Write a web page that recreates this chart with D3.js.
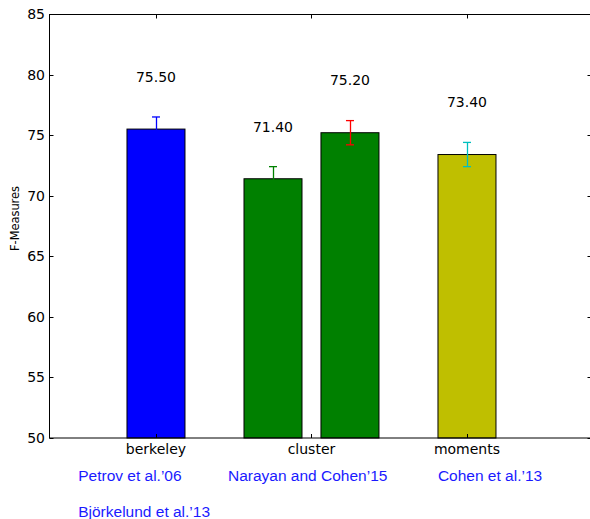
<!DOCTYPE html>
<html>
<head>
<meta charset="utf-8">
<script src="https://cdn.jsdelivr.net/npm/d3@7"></script>
<style>
  html, body { margin: 0; padding: 0; background: #fff; }
  svg { display: block; }
</style>
</head>
<body>
<script>
// ---- data ----
const categories = ["berkeley", "cluster", "moments"];
const barGroup = [0, 1, 1, 2];
const barValues = [75.5, 71.4, 75.2, 73.4];
const barErrors = [1.0, 1.0, 1.0, 1.0];
const barColors = ["#0000ff", "#008000", "#008000", "#bfbf00"];
const errColors = ["#0000ff", "#008000", "#ff0000", "#00bfbf"];
const yTicks = [50, 55, 60, 65, 70, 75, 80, 85];
const refLabels = ["Petrov et al.\u201906", "Narayan and Cohen\u201915", "Cohen et al.\u201913", "Bj\u00f6rkelund et al.\u201913"];
const refX = [-0.5, 0.463, 1.813, -0.5];
const refY = [46.45, 46.45, 46.45, 43.45];

const W = 590, H = 519;
const svg = d3.select("body").append("svg").attr("width", W).attr("height", H);

const x = d3.scaleLinear().domain([-0.688, 2.804]).range([49, 592]);
const y = d3.scaleLinear().domain([50, 85]).range([438, 14]);

const barW = 0.373;
// offset of a bar within its category group
const groupCounts = d3.rollup(barGroup, v => v.length, d => d);
const seen = {};
const bars = barValues.map((v, i) => {
  const g = barGroup[i];
  const n = groupCounts.get(g);
  seen[g] = (seen[g] || 0);
  const k = seen[g]++;
  const off = n === 1 ? 0 : (k - (n - 1) / 2) * 0.495;
  return { v, e: barErrors[i], c: barColors[i], ec: errColors[i], cx: g + off };
});

const font = "DejaVu Sans, sans-serif";

// bars
svg.append("g").selectAll("rect").data(bars).join("rect")
  .attr("x", d => x(d.cx - barW / 2))
  .attr("y", d => y(d.v))
  .attr("width", d => x(d.cx + barW / 2) - x(d.cx - barW / 2))
  .attr("height", d => y(50) - y(d.v))
  .attr("fill", d => d.c)
  .attr("stroke", "#000")
  .attr("stroke-width", 1);

// error bars
const eb = svg.append("g").selectAll("g").data(bars).join("g")
  .attr("stroke", d => d.ec).attr("stroke-width", 1.3);
eb.append("line")
  .attr("x1", d => Math.round(x(d.cx)) + 0.5).attr("x2", d => Math.round(x(d.cx)) + 0.5)
  .attr("y1", d => y(d.v - d.e)).attr("y2", d => y(d.v + d.e));
eb.append("line")
  .attr("x1", d => x(d.cx) - 4).attr("x2", d => x(d.cx) + 4)
  .attr("y1", d => y(d.v + d.e)).attr("y2", d => y(d.v + d.e));
eb.append("line")
  .attr("x1", d => x(d.cx) - 4).attr("x2", d => x(d.cx) + 4)
  .attr("y1", d => y(d.v - d.e)).attr("y2", d => y(d.v - d.e));

// value labels
svg.append("g").selectAll("text").data(bars).join("text")
  .attr("x", d => x(d.cx))
  .attr("y", d => y(d.v + 3.9))
  .attr("text-anchor", "middle")
  .attr("font-family", font).attr("font-size", 14)
  .attr("fill", "#000")
  .text(d => d3.format(".2f")(d.v));

// spines
const sp = svg.append("g").attr("stroke", "#000").attr("stroke-width", 1).attr("fill", "none");
sp.append("rect").attr("x", 49.5).attr("y", 14.5).attr("width", 542).attr("height", 423.5);

// y ticks (inward, both sides)
const yt = svg.append("g");
yTicks.forEach(t => {
  const py = Math.round(y(t)) + 0.5;
  yt.append("line").attr("x1", 49.5).attr("x2", 53.5).attr("y1", py).attr("y2", py).attr("stroke", "#000");
  yt.append("line").attr("x1", 591.5).attr("x2", 587.5).attr("y1", py).attr("y2", py).attr("stroke", "#000");
  yt.append("text").attr("x", 45).attr("y", y(t)).attr("dy", "0.36em")
    .attr("text-anchor", "end").attr("font-family", font).attr("font-size", 14)
    .attr("fill", "#000").text(d3.format("d")(t));
});

// x ticks (inward, top and bottom)
const xt = svg.append("g");
categories.forEach((c, i) => {
  const px = Math.round(x(i)) + 0.5;
  xt.append("line").attr("x1", px).attr("x2", px).attr("y1", 438).attr("y2", 434).attr("stroke", "#000");
  xt.append("line").attr("x1", px).attr("x2", px).attr("y1", 14.5).attr("y2", 18.5).attr("stroke", "#000");
  xt.append("text").attr("x", x(i)).attr("y", 454)
    .attr("text-anchor", "middle").attr("font-family", font).attr("font-size", 14)
    .attr("fill", "#000").text(c);
});

// y-axis label
svg.append("text")
  .attr("transform", "translate(19,218.5) rotate(-90)")
  .attr("text-anchor", "middle")
  .attr("font-family", font).attr("font-size", 13)
  .attr("textLength", 65).attr("lengthAdjust", "spacingAndGlyphs")
  .attr("fill", "#000")
  .text("F-Measures");

// reference annotations
svg.append("g").selectAll("text").data(refLabels).join("text")
  .attr("x", (d, i) => x(refX[i]))
  .attr("y", (d, i) => y(refY[i]))
  .attr("font-family", "Liberation Sans, Arial, sans-serif")
  .attr("font-size", 15.5)
  .attr("fill", "#1a1aff")
  .text(d => d);
</script>
</body>
</html>
